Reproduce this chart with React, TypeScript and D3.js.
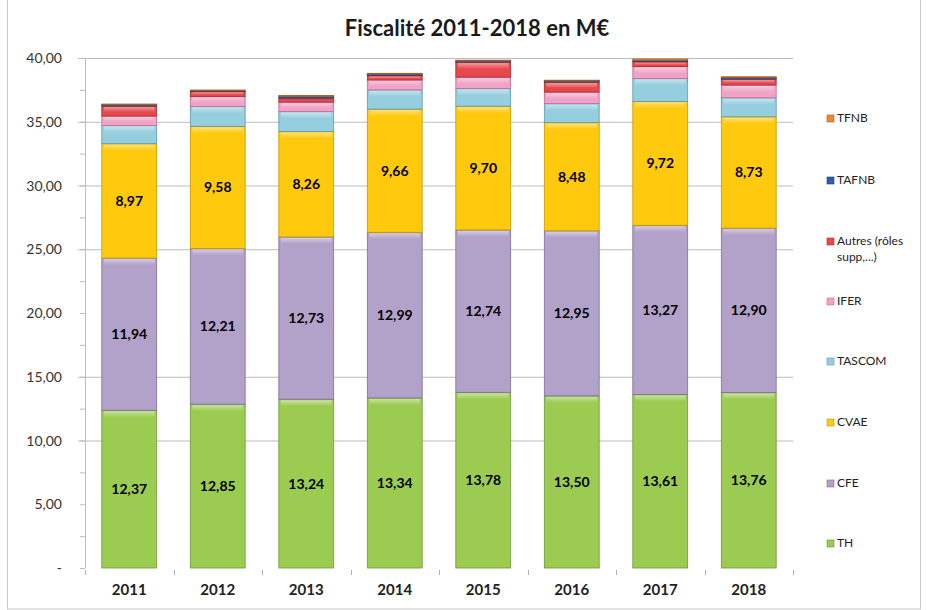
import React from "react";
import * as d3 from "d3";

const years = ["2011", "2012", "2013", "2014", "2015", "2016", "2017", "2018"];
const seriesNames = ["TH", "CFE", "CVAE", "TASCOM", "IFER", "Autres (rôles supp,...)", "TAFNB", "TFNB"];
const TH = [12.37, 12.85, 13.24, 13.34, 13.78, 13.5, 13.61, 13.76];
const CFE = [11.94, 12.21, 12.73, 12.99, 12.74, 12.95, 13.27, 12.9];
const CVAE = [8.97, 9.58, 8.26, 9.66, 9.7, 8.48, 9.72, 8.73];
const TASCOM = [1.44, 1.57, 1.57, 1.51, 1.39, 1.49, 1.8, 1.49];
const IFER = [0.73, 0.78, 0.74, 0.78, 0.89, 0.91, 0.94, 1.0];
const AUTRES = [0.78, 0.39, 0.31, 0.34, 1.18, 0.78, 0.37, 0.47];
const TAFNB = [0.13, 0.06, 0.18, 0.12, 0.13, 0.13, 0.1, 0.12];
const TFNB = [0.03, 0.05, 0.02, 0.06, 0.02, 0.02, 0.11, 0.06];
const yTicks = [0, 5, 10, 15, 20, 25, 30, 35, 40];
const gridTicks = [10, 15, 25, 30, 35, 40];
const colors = ["#9CCB52", "#B2A1C8", "#FFC90E", "#95CEDF", "#F0A3C6", "#E8474C", "#2F5FAA", "#E98B3C"];
const edgeColors = ["#6E9A33", "#7F6E98", "#C99A00", "#5F98A8", "#C06F92", "#A82C30", "#1D3E73", "#A85C20"];
const labelled = [0, 1, 2];

const seriesData = [TH, CFE, CVAE, TASCOM, IFER, AUTRES, TAFNB, TFNB];

export default function App() {
  const W = 927, H = 610;
  const x0 = 85, x1 = 793, yTop = 58, yBot = 568;
  const x = d3.scaleBand().domain(years).range([x0, x1]).paddingInner(0.38).paddingOuter(0.19);
  const y = d3.scaleLinear().domain([0, 40]).range([yBot, yTop]);

  const rows = years.map((yr, i) => {
    const r: any = { year: yr };
    seriesNames.forEach((s, k) => (r[s] = seriesData[k][i]));
    return r;
  });
  const stacked = d3.stack().keys(seriesNames)(rows);
  const fmt = (v: number) => v.toFixed(2).replace(".", ",");
  const minor = d3.range(0, 40.01, 2.5);

  const legendY = [122, 184, 245, 305, 365, 426, 487, 547];
  const legendOrder = [7, 6, 5, 4, 3, 2, 1, 0];
  const font = "Lato, 'Open Sans', sans-serif";

  return (
    <svg width={W} height={H} style={{ position: "absolute", left: 0, top: 0, background: "#fff" }} fontFamily={font}>
      <defs>
        <linearGradient id="shine" x1="0" y1="0" x2="0" y2="1">
          <stop offset="0" stopColor="#fff" stopOpacity="0.45" />
          <stop offset="1" stopColor="#fff" stopOpacity="0" />
        </linearGradient>
      </defs>
      <rect x={7.5} y={-2} width={913} height={611} fill="none" stroke="#c8c8c8" />
      <text x={477} y={36} textAnchor="middle" fontSize={22} fontWeight="bold" fill="#1a1a1a">
        Fiscalité 2011-2018 en M€
      </text>
      {gridTicks.map((t) => (
        <line key={"g" + t} x1={x0 - 7} x2={x1} y1={y(t) + 0.5} y2={y(t) + 0.5} stroke="#bcbcbc" />
      ))}
      {minor.map((t) => (
        <line key={"m" + t} x1={x0 - 5} x2={x0} y1={y(t) + 0.5} y2={y(t) + 0.5} stroke="#bcbcbc" />
      ))}
      <line x1={x0 + 0.5} x2={x0 + 0.5} y1={yTop} y2={yBot} stroke="#bcbcbc" />
      {yTicks.map((t) => (
        <text key={"t" + t} x={62} y={y(t) + 5} textAnchor="end" fontSize={14} fill="#333">
          {t === 0 ? "-" : fmt(t)}
        </text>
      ))}
      {stacked.map((layer, k) =>
        layer.map((d, i) => {
          const top = y(d[1]);
          const h = y(d[0]) - y(d[1]);
          const bx = x(years[i])!;
          return (
            <g key={k + "-" + i}>
              <rect x={bx} y={top} width={x.bandwidth()} height={Math.max(h, 0.8)} fill={colors[k]} stroke={edgeColors[k]} strokeWidth={0.8} />
              {h > 4 && (
                <rect x={bx + 2} y={top + 1} width={x.bandwidth() - 4} height={Math.min(6, h / 2)} fill="url(#shine)" />
              )}
            </g>
          );
        })
      )}
      {labelled.map((k) =>
        stacked[k].map((d, i) => (
          <text key={"l" + k + i} x={x(years[i])! + x.bandwidth() / 2} y={(y(d[0]) + y(d[1])) / 2 + 5} textAnchor="middle" fontSize={14} fontWeight="bold" fill="#000">
            {fmt(seriesData[k][i])}
          </text>
        ))
      )}
      {d3.range(0, years.length + 1).map((i) => {
        const xx = Math.round(x0 + i * x.step()) + 0.5;
        return <line key={"xt" + i} x1={xx} x2={xx} y1={yBot + 2} y2={yBot + 7} stroke="#b0b0b0" />;
      })}
      {years.map((yr) => (
        <text key={"x" + yr} x={x(yr)! + x.bandwidth() / 2} y={595} textAnchor="middle" fontSize={15} fontWeight="bold" fill="#222">
          {yr}
        </text>
      ))}
      {legendOrder.map((k, j) => (
        <g key={"lg" + k}>
          <rect x={827} y={legendY[j] - 7} width={7} height={7} fill={colors[k]} stroke={edgeColors[k]} strokeWidth={0.6} />
          {k === 5 ? (
            <text x={837} y={legendY[j]} fontSize={12} fill="#222">
              <tspan x={837}>Autres (rôles</tspan>
              <tspan x={837} dy={16}>supp,...)</tspan>
            </text>
          ) : (
            <text x={837} y={legendY[j]} fontSize={12} fill="#222">{seriesNames[k]}</text>
          )}
        </g>
      ))}
    </svg>
  );
}
